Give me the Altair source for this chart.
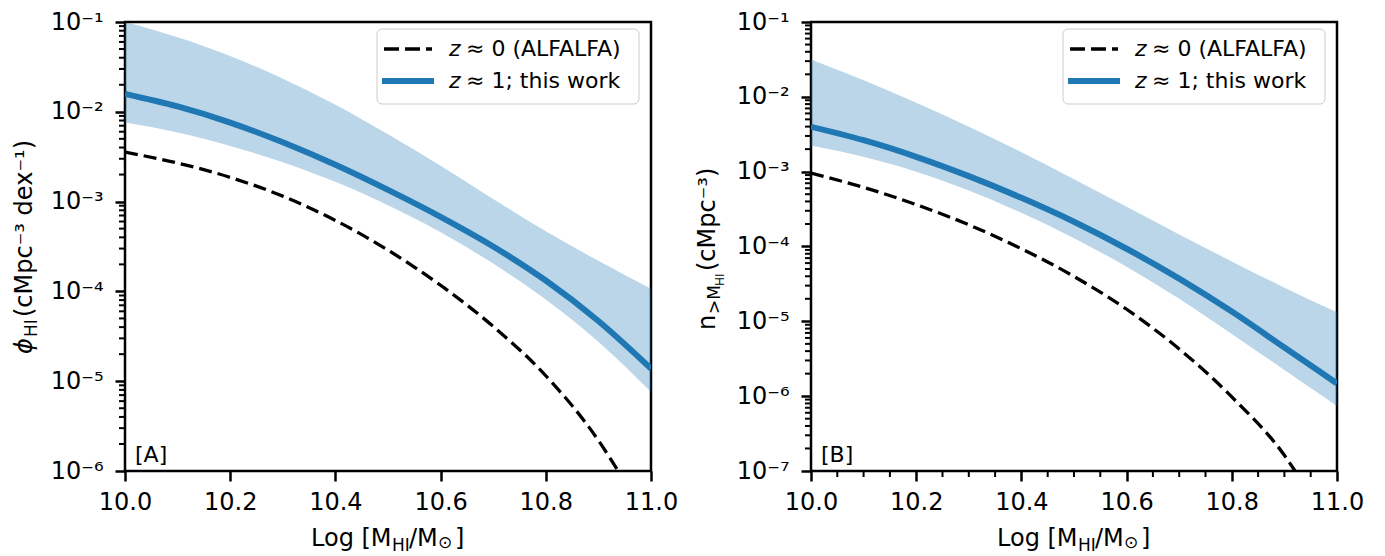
import altair as alt
import pandas as pd

FONT = "DejaVu Sans"
BLUE = "#1f77b4"

# shared x grid (log10 M_HI / M_sun)
X = [10.0, 10.1, 10.2, 10.3, 10.4, 10.5, 10.6, 10.7, 10.8, 10.9, 11.0]
X_TICKS = [10.0, 10.2, 10.4, 10.6, 10.8, 11.0]

# Panel A: HI mass function phi_HI (cMpc^-3 dex^-1)
A_blue = [1.585e-2, 1.148e-2, 7.59e-3, 4.57e-3, 2.57e-3, 1.35e-3, 6.76e-4, 3.16e-4, 1.32e-4, 4.68e-5, 1.38e-5]
A_upper = [1.0e-1, 6.76e-2, 4.17e-2, 2.34e-2, 1.20e-2, 5.62e-3, 2.51e-3, 1.07e-3, 4.68e-4, 2.19e-4, 1.07e-4]
A_lower = [7.59e-3, 5.89e-3, 4.17e-3, 2.75e-3, 1.66e-3, 9.12e-4, 4.57e-4, 2.04e-4, 8.13e-5, 2.75e-5, 7.59e-6]
A_alfalfa_x = [10.0, 10.1, 10.2, 10.3, 10.4, 10.5, 10.6, 10.7, 10.8, 10.9, 10.94]
A_alfalfa = [3.55e-3, 2.69e-3, 1.86e-3, 1.15e-3, 6.17e-4, 2.88e-4, 1.17e-4, 4.07e-5, 1.15e-5, 2.19e-6, 9.5e-7]

# Panel B: cumulative number density n(>M_HI) (cMpc^-3)
B_blue = [3.98e-3, 2.63e-3, 1.58e-3, 8.71e-4, 4.47e-4, 2.14e-4, 9.33e-5, 3.72e-5, 1.35e-5, 4.47e-6, 1.48e-6]
B_upper = [3.16e-2, 1.66e-2, 8.32e-3, 3.98e-3, 1.82e-3, 7.94e-4, 3.39e-4, 1.45e-4, 6.31e-5, 2.82e-5, 1.32e-5]
B_lower = [2.24e-3, 1.58e-3, 1.0e-3, 5.62e-4, 2.82e-4, 1.29e-4, 5.37e-5, 2.0e-5, 6.76e-6, 2.24e-6, 7.41e-7]
B_alfalfa_x = [10.0, 10.1, 10.2, 10.3, 10.4, 10.5, 10.6, 10.7, 10.8, 10.9, 10.93]
B_alfalfa = [9.55e-4, 6.17e-4, 3.63e-4, 1.95e-4, 9.33e-5, 3.98e-5, 1.45e-5, 4.27e-6, 9.77e-7, 1.62e-7, 7.9e-8]

A_YMAJOR = [1e-6, 1e-5, 1e-4, 1e-3, 1e-2, 1e-1]
B_YMAJOR = [1e-7, 1e-6, 1e-5, 1e-4, 1e-3, 1e-2, 1e-1]
A_YMINOR = [k * 10.0 ** n for n in range(-6, -1) for k in range(2, 10)]
B_YMINOR = [k * 10.0 ** n for n in range(-7, -1) for k in range(2, 10)]
B_XMINOR = [round(10.0 + 0.05 * i, 2) for i in range(1, 20) if i % 4 != 0]

W, H = 526, 449
ONE = pd.DataFrame({"a": [0]})
NB = "\u00a0"

SUP = "['⁰','¹','²','³','⁴','⁵','⁶','⁷','⁸','⁹']"
YLABEL = "'10⁻' + " + SUP + "[round(-log(datum.value)/LN10)]"


def txt(s, x, y, size=24, angle=0, align="left", baseline="alphabetic", style="normal"):
    return alt.Chart(ONE).mark_text(
        text=s, fontSize=size, angle=angle, align=align, baseline=baseline,
        fontStyle=style, color="black", font=FONT,
    ).encode(x=alt.value(x), y=alt.value(y))


def panel(tag, blue, upper, lower, ax, alf, ydom, ymajor, yminor, xminor, ytitle):
    df = pd.DataFrame({"x": X, "blue": blue, "up": upper, "lo": lower})
    dk = pd.DataFrame({"x": ax, "v": alf})
    xs = alt.Scale(domain=[10, 11], nice=False, zero=False)
    ys = alt.Scale(type="log", domain=ydom, nice=False)
    xaxis = alt.Axis(values=X_TICKS, format=".1f", tickSize=10, tickWidth=2.5, tickColor="black",
                     labelFontSize=24, labelFont=FONT, labelColor="black", labelPadding=9,
                     domain=False, grid=False, title=None, labelFlush=False)
    yaxis = alt.Axis(values=ymajor, labelExpr=YLABEL, tickSize=10, tickWidth=2.5, tickColor="black",
                     labelFontSize=24, labelFont=FONT, labelColor="black", labelPadding=12,
                     domain=False, grid=False, title=None, labelFlush=False)
    band = alt.Chart(df).mark_area(color=BLUE, opacity=0.3, clip=True, interpolate="monotone").encode(
        x=alt.X("x:Q", scale=xs, axis=xaxis),
        y=alt.Y("up:Q", scale=ys, axis=yaxis),
        y2="lo:Q",
    )
    black = alt.Chart(dk).mark_line(color="black", strokeWidth=3.3, strokeDash=[13, 6], clip=True,
                                    interpolate="monotone").encode(
        x=alt.X("x:Q", scale=xs, axis=xaxis), y=alt.Y("v:Q", scale=ys, axis=yaxis))
    line = alt.Chart(df).mark_line(color=BLUE, strokeWidth=6, clip=True, interpolate="monotone").encode(
        x=alt.X("x:Q", scale=xs, axis=xaxis), y=alt.Y("blue:Q", scale=ys, axis=yaxis))
    ymin = alt.Chart(pd.DataFrame({"v": yminor})).mark_rule(color="black", strokeWidth=2).encode(
        y=alt.Y("v:Q", scale=ys, axis=yaxis), x=alt.value(0), x2=alt.value(-6))
    layers = [band, black, line, ymin]
    if xminor:
        xmin = alt.Chart(pd.DataFrame({"v": xminor})).mark_rule(color="black", strokeWidth=2).encode(
            x=alt.X("v:Q", scale=xs, axis=xaxis), y=alt.value(H), y2=alt.value(H + 6))
        layers.append(xmin)
    # legend
    box = alt.Chart(ONE).mark_rect(fill="white", fillOpacity=0.8, stroke="#cccccc", strokeWidth=1,
                                   cornerRadius=5).encode(
        x=alt.value(252), x2=alt.value(514), y=alt.value(7), y2=alt.value(82))
    s1 = alt.Chart(ONE).mark_rule(color="black", strokeWidth=3.3, strokeDash=[15, 6]).encode(
        x=alt.value(259), x2=alt.value(307), y=alt.value(27))
    s2 = alt.Chart(ONE).mark_rule(color=BLUE, strokeWidth=6).encode(
        x=alt.value(257), x2=alt.value(309), y=alt.value(59))
    layers += [box, s1, s2,
               txt("z", 324, 27, size=22, baseline="middle", style="italic"),
               txt("≈ 0 (ALFALFA)", 341, 27, size=22, baseline="middle"),
               txt("z", 324, 59, size=22, baseline="middle", style="italic"),
               txt("≈ 1; this work", 341, 59, size=22, baseline="middle"),
               txt(tag, 10, 440, size=22)]
    # x title: Log [M_HI/M_sun]
    layers += [txt("Log [M", 186, 524), txt("HI", 267, 529, size=17), txt("/M", 284, 524),
               txt("⊙", 313, 526, size=17), txt("]", 330, 524)]
    layers += ytitle
    return alt.layer(*layers).properties(width=W, height=H)


titleA = [txt("ϕ", -93, 332, angle=270, style="italic"),
          txt("HI", -88, 315, size=17, angle=270),
          txt(NB + "(cMpc⁻³ dex⁻¹)", -93, 295, angle=270)]
titleB = [txt("n", -96, 308, angle=270),
          txt(">M", -91, 292, size=17, angle=270),
          txt("HI", -87, 264, size=12, angle=270),
          txt(NB + "(cMpc⁻³)", -96, 249, angle=270)]

pA = panel("[A]", A_blue, A_upper, A_lower, A_alfalfa_x, A_alfalfa, [1e-6, 1e-1],
           A_YMAJOR, A_YMINOR, None, titleA)
pB = panel("[B]", B_blue, B_upper, B_lower, B_alfalfa_x, B_alfalfa, [1e-7, 1e-1],
           B_YMAJOR, B_YMINOR, B_XMINOR, titleB)

chart = alt.hconcat(pA, pB, spacing=15).properties(
    padding={"left": 3, "top": 0, "right": 0, "bottom": 0}
).configure(font=FONT).configure_view(stroke="black", strokeWidth=2.5)

chart.save("out.html", embed_options={"renderer": "svg", "actions": False})
